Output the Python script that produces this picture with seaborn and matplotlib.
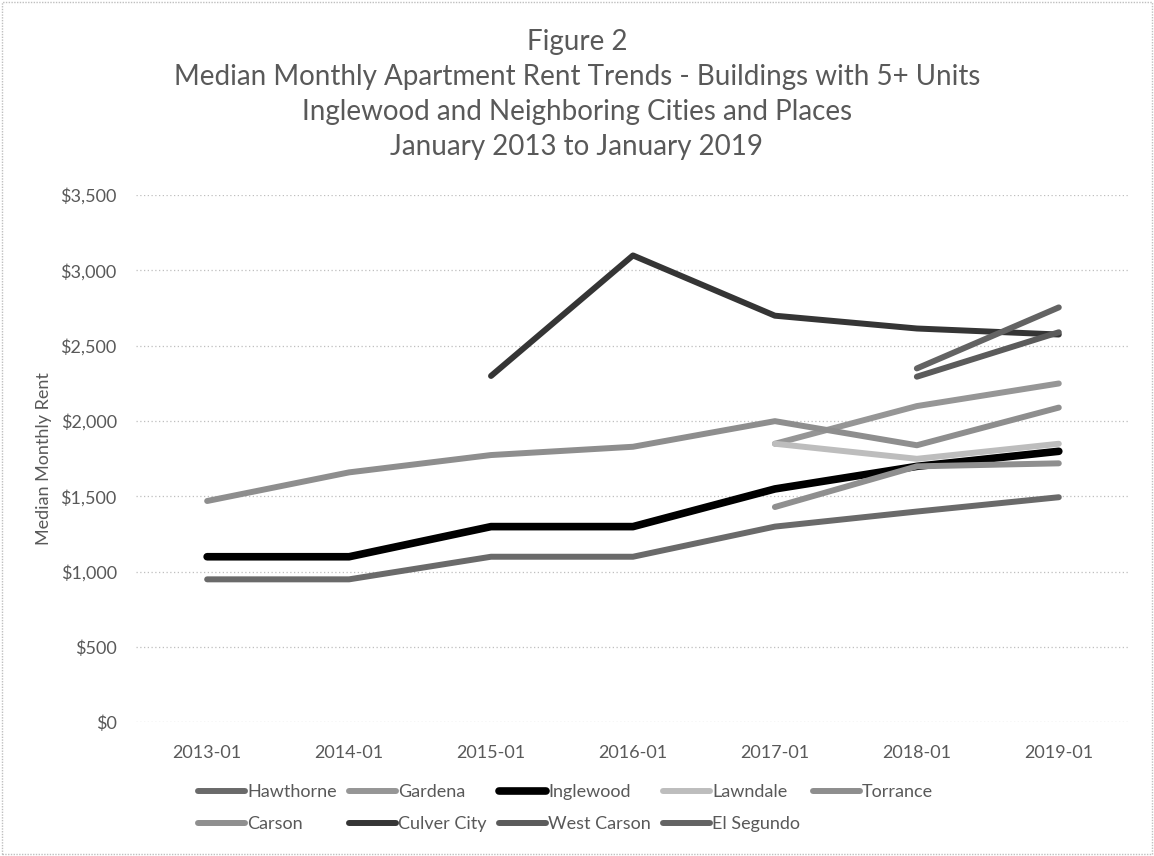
import numpy as np
import pandas as pd
import matplotlib
matplotlib.use('Agg')
import matplotlib.pyplot as plt
import matplotlib.ticker as mticker
from matplotlib.patches import Rectangle
import seaborn as sns

# data
periods = ['2013-01', '2014-01', '2015-01', '2016-01', '2017-01', '2018-01', '2019-01']
nan = np.nan
hawthorne = [950, 950, 1100, 1100, 1300, 1400, 1495]
gardena = [nan, nan, nan, nan, 1850, 2100, 2250]
inglewood = [1100, 1100, 1300, 1300, 1550, 1700, 1800]
lawndale = [nan, nan, nan, nan, 1850, 1750, 1850]
torrance = [1470, 1660, 1775, 1830, 2000, 1840, 2090]
carson = [nan, nan, nan, nan, 1430, 1700, 1720]
culver_city = [nan, nan, 2300, 3100, 2700, 2615, 2575]
west_carson = [nan, nan, nan, nan, nan, 2295, 2590]
el_segundo = [nan, nan, nan, nan, nan, 2350, 2755]

cities = ['Hawthorne', 'Gardena', 'Inglewood', 'Lawndale', 'Torrance',
          'Carson', 'Culver City', 'West Carson', 'El Segundo']
values = [hawthorne, gardena, inglewood, lawndale, torrance,
          carson, culver_city, west_carson, el_segundo]
shades = ['#6a6a6a', '#969696', '#000000', '#bdbdbd', '#8e8e8e',
          '#8f8f8f', '#353535', '#5b5b5b', '#636363']
widths = [4.3, 4.3, 5.5, 4.3, 4.3, 4.3, 4.3, 4.3, 4.3]

df = pd.DataFrame({'period': np.tile(periods, len(cities)),
                   'city': np.repeat(cities, len(periods)),
                   'rent': np.concatenate(values)})

sns.set_style('white')
plt.rcParams['font.family'] = ['Lato', 'DejaVu Sans']
text_grey = '#595959'

fig = plt.figure(figsize=(11.54, 8.56), dpi=100)
ax = fig.add_axes([0.118, 0.156, 0.861, 0.616])

handles = {}
for city, shade, lw in zip(cities, shades, widths):
    sub = df[(df['city'] == city) & df['rent'].notna()]
    sns.lineplot(data=sub, x='period', y='rent', ax=ax, color=shade,
                 linewidth=lw, sort=False, label=city)
    handles[city] = ax.get_lines()[-1]

ax.set_xlim(-0.5, len(periods) - 0.5)
ax.set_ylim(0, 3500)
ax.yaxis.set_major_locator(mticker.MultipleLocator(500))
ax.yaxis.set_major_formatter(mticker.StrMethodFormatter('${x:,.0f}'))
ax.grid(axis='y', linestyle=(0, (1, 2)), color='#bfbfbf', linewidth=0.9)
ax.set_axisbelow(True)
for s in ax.spines.values():
    s.set_visible(False)
ax.tick_params(axis='both', length=0, labelsize=13, colors=text_grey)
ax.tick_params(axis='x', pad=16)
ax.tick_params(axis='y', pad=14)
ax.set_xlabel('')
ax.set_ylabel('Median Monthly Rent', fontsize=13, color=text_grey, labelpad=6)

fig.text(0.5, 0.966, 'Figure 2\nMedian Monthly Apartment Rent Trends - Buildings with 5+ Units\n'
         'Inglewood and Neighboring Cities and Places\nJanuary 2013 to January 2019',
         ha='center', va='top', fontsize=20, color=text_grey, linespacing=1.42)

# matplotlib fills legend columns first, so interleave to get Excel's row order
order = ['Hawthorne', 'Carson', 'Gardena', 'Culver City', 'Inglewood',
         'West Carson', 'Lawndale', 'El Segundo', 'Torrance']
ax.get_legend().remove()
fig.legend([handles[c] for c in order], order, loc='center', ncol=5,
           bbox_to_anchor=(0.49, 0.056), frameon=False, fontsize=13,
           labelcolor=text_grey, handlelength=2.6, handletextpad=0.1,
           columnspacing=0.7, labelspacing=0.9)

fig.patches.append(Rectangle((0.002, 0.002), 0.996, 0.996, transform=fig.transFigure,
                             fill=False, edgecolor='#bfbfbf', linewidth=1,
                             linestyle=(0, (1, 1))))

fig.savefig('out.png', dpi=100)
